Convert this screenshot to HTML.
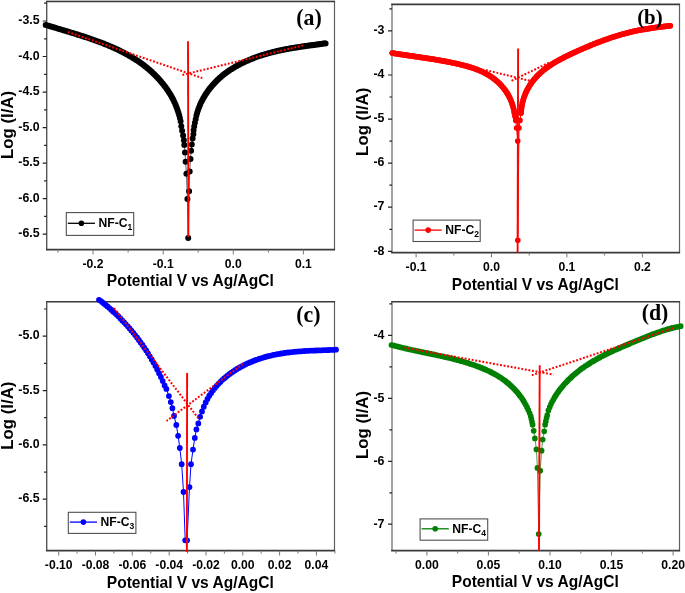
<!DOCTYPE html>
<html lang="en"><head><meta charset="utf-8"><title>Tafel plots</title>
<style>
html,body{margin:0;padding:0;background:#fff;}
body{width:685px;height:593px;overflow:hidden;}
svg{display:block;filter:blur(0.35px);}
.tk{font:bold 13.6px 'Liberation Sans', Arial, sans-serif;fill:#000;}
.ti{font:bold 16.5px 'Liberation Sans', Arial, sans-serif;fill:#000;}
.lg{font:bold 12.8px 'Liberation Sans', Arial, sans-serif;fill:#000;}
.pl{font-family:'Liberation Serif', 'Times New Roman', serif;font-weight:bold;fill:#000;}
</style></head><body>
<svg width="685" height="593" viewBox="0 0 685 593">
<rect width="685" height="593" fill="#fff"/>
<rect x="46" y="0" width="289" height="0.6" fill="#dcdcdc"/>
<g id="plot-a">
<path d="M46.7 1.45V249.6" stroke="#555" stroke-width="1.4" fill="none"/>
<path d="M334.5 1.45V249.6" stroke="#606060" stroke-width="1.2" fill="none"/>
<path d="M46.00 1.45H335.1" stroke="#3a3a3a" stroke-width="1.6" fill="none"/>
<path d="M46.00 249.6H335.1" stroke="#3a3a3a" stroke-width="1.8" fill="none"/>
<path d="M93.0 249.6v4.8M163.2 249.6v4.8M233.3 249.6v4.8M303.4 249.6v4.8M58.0 249.6v2.9M128.1 249.6v2.9M198.2 249.6v2.9M268.4 249.6v2.9" stroke="#777" stroke-width="1" fill="none"/>
<path d="M46.7 21.0h-4M46.7 56.5h-4M46.7 92.1h-4M46.7 127.6h-4M46.7 163.1h-4M46.7 198.7h-4M46.7 234.2h-4M46.7 3.2h-2.6M46.7 38.8h-2.6M46.7 74.3h-2.6M46.7 109.8h-2.6M46.7 145.4h-2.6M46.7 180.9h-2.6M46.7 216.4h-2.6" stroke="#222" stroke-width="1.2" fill="none"/>
<path d="M45.7 24.9L46.2 25.1L46.9 25.3L47.6 25.5L48.3 25.7L49.0 25.9L49.7 26.1L50.4 26.4L51.1 26.6L51.8 26.8L52.5 27.0L53.2 27.2L53.9 27.4L54.6 27.6L55.3 27.8L56.0 28.1L56.7 28.3L57.4 28.5L58.1 28.7L58.8 28.9L59.5 29.1L60.2 29.3L60.9 29.5L61.6 29.7L62.3 29.9L63.0 30.2L63.7 30.4L64.4 30.6L65.1 30.8L65.8 31.0L66.5 31.2L67.2 31.4L67.9 31.6L68.6 31.8L69.3 32.1L70.0 32.3L70.7 32.5L71.4 32.7L72.1 32.9L72.8 33.1L73.5 33.3L74.2 33.5L74.9 33.8L75.6 34.0L76.3 34.2L77.0 34.4L77.7 34.6L78.4 34.9L79.1 35.1L79.8 35.3L80.5 35.5L81.2 35.7L81.9 36.0L82.6 36.2L83.3 36.4L84.0 36.6L84.7 36.9L85.4 37.1L86.1 37.3L86.8 37.6L87.5 37.8L88.2 38.0L88.9 38.3L89.6 38.5L90.3 38.7L91.0 39.0L91.7 39.2L92.4 39.5L93.1 39.7L93.8 40.0L94.5 40.2L95.2 40.5L95.9 40.7L96.6 41.0L97.3 41.2L98.0 41.5L98.7 41.7L99.4 42.0L100.1 42.3L100.8 42.5L101.5 42.8L102.2 43.1L102.9 43.3L103.6 43.6L104.3 43.9L105.0 44.2L105.7 44.4L106.4 44.7L107.1 45.0L107.8 45.3L108.5 45.6L109.2 45.9L109.9 46.2L110.6 46.5L111.3 46.8L112.0 47.1L112.7 47.4L113.4 47.7L114.1 48.0L114.8 48.3L115.5 48.7L116.2 49.0L116.9 49.3L117.6 49.6L118.3 50.0L119.0 50.3L119.7 50.7L120.4 51.0L121.1 51.4L121.8 51.7L122.5 52.1L123.2 52.4L123.9 52.8L124.6 53.2L125.3 53.5L126.0 53.9L126.7 54.3L127.4 54.7L128.1 55.1L128.8 55.5L129.5 55.9L130.2 56.3L130.9 56.7L131.6 57.1L132.3 57.5L133.0 57.9L133.7 58.4L134.4 58.8L135.1 59.3L135.8 59.7L136.5 60.2L137.2 60.6L137.9 61.1L138.6 61.6L139.3 62.0L140.0 62.5L140.7 63.0L141.4 63.5L142.1 64.0L142.8 64.6L143.5 65.1L144.2 65.6L144.9 66.2L145.6 66.7L146.3 67.3L147.0 67.8L147.7 68.4L148.4 69.0L149.1 69.6L149.8 70.2L150.5 70.8L151.2 71.5L151.9 72.1L152.6 72.7L153.3 73.4L154.0 74.1L154.7 74.8L155.4 75.4L156.1 76.2L156.8 76.9L157.5 77.6L158.2 78.4L158.9 79.1L159.6 79.9L160.3 80.7L161.0 81.5L161.7 82.4L162.4 83.2L163.1 84.1L163.8 85.0L164.5 85.9L165.2 86.8L165.9 87.8L166.6 88.8L167.3 89.8L168.0 90.8L168.7 91.9L169.4 93.0L170.1 94.1L170.8 95.3L171.5 96.5L172.2 97.8L172.9 99.1L173.6 100.5L174.3 102.0L175.0 103.5L175.7 105.1L176.4 106.9L177.1 108.7L177.8 110.7L178.5 112.9L179.2 115.3L179.9 118.0L180.6 121.3L181.3 126.2L182.1 130.8L183.1 135.5L183.9 140.2L184.3 144.9L185.0 152.4L185.6 161.8L186.4 173.8L187.4 199.0L188.2 238.1L189.1 191.3L189.7 171.5L190.5 158.9L191.1 150.7L191.8 144.6L192.6 138.4L193.4 134.3L193.6 130.3L194.2 126.4L194.9 122.7L195.7 119.2L196.4 115.5L197.1 113.0L197.8 110.7L198.5 108.7L199.2 106.9L199.9 105.2L200.6 103.6L201.3 102.1L202.0 100.7L202.7 99.4L203.4 98.1L204.1 96.9L204.8 95.7L205.5 94.6L206.2 93.5L206.9 92.5L207.6 91.5L208.3 90.5L209.0 89.5L209.7 88.6L210.4 87.7L211.1 86.9L211.8 86.0L212.5 85.2L213.2 84.4L213.9 83.7L214.6 82.9L215.3 82.2L216.0 81.4L216.7 80.7L217.4 80.1L218.1 79.4L218.8 78.8L219.5 78.1L220.2 77.5L220.9 76.9L221.6 76.3L222.3 75.7L223.0 75.1L223.7 74.6L224.4 74.0L225.1 73.5L225.8 73.0L226.5 72.5L227.2 72.0L227.9 71.5L228.6 71.0L229.3 70.5L230.0 70.1L230.7 69.6L231.4 69.2L232.1 68.7L232.8 68.3L233.5 67.9L234.2 67.4L234.9 67.0L235.6 66.6L236.3 66.2L237.0 65.8L237.7 65.5L238.4 65.1L239.1 64.7L239.8 64.3L240.5 64.0L241.2 63.6L241.9 63.3L242.6 62.9L243.3 62.6L244.0 62.3L244.7 61.9L245.4 61.6L246.1 61.3L246.8 61.0L247.5 60.7L248.2 60.4L248.9 60.1L249.6 59.8L250.3 59.5L251.0 59.2L251.7 58.9L252.4 58.6L253.1 58.4L253.8 58.1L254.5 57.8L255.2 57.6L255.9 57.3L256.6 57.0L257.3 56.8L258.0 56.5L258.7 56.3L259.4 56.1L260.1 55.8L260.8 55.6L261.5 55.4L262.2 55.1L262.9 54.9L263.6 54.7L264.3 54.5L265.0 54.3L265.7 54.1L266.4 53.9L267.1 53.7L267.8 53.5L268.5 53.3L269.2 53.1L269.9 52.9L270.6 52.7L271.3 52.5L272.0 52.3L272.7 52.2L273.4 52.0L274.1 51.8L274.8 51.7L275.5 51.5L276.2 51.3L276.9 51.2L277.6 51.0L278.3 50.8L279.0 50.7L279.7 50.5L280.4 50.4L281.1 50.2L281.8 50.1L282.5 50.0L283.2 49.8L283.9 49.7L284.6 49.5L285.3 49.4L286.0 49.3L286.7 49.1L287.4 49.0L288.1 48.9L288.8 48.8L289.5 48.6L290.2 48.5L290.9 48.4L291.6 48.3L292.3 48.1L293.0 48.0L293.7 47.9L294.4 47.8L295.1 47.7L295.8 47.6L296.5 47.5L297.2 47.4L297.9 47.2L298.6 47.1L299.3 47.0L300.0 46.9L300.7 46.8L301.4 46.7L302.1 46.6L302.8 46.5L303.5 46.4L304.2 46.3L304.9 46.2L305.6 46.1L306.3 46.0L307.0 45.9L307.7 45.8L308.4 45.7L309.1 45.6L309.8 45.5L310.5 45.4L311.2 45.3L311.9 45.3L312.6 45.2L313.3 45.1L314.0 45.0L314.7 44.9L315.4 44.8L316.1 44.7L316.8 44.6L317.5 44.5L318.2 44.4L318.9 44.3L319.6 44.2L320.3 44.1L321.0 44.0L321.7 43.9L322.4 43.8L323.1 43.7L323.8 43.6L324.5 43.6L325.2 43.5L325.6 43.4" stroke="#000000" stroke-width="0.6" fill="none" stroke-linejoin="round"/>
<path d="M45.7 24.9h0M46.2 25.1h0M46.9 25.3h0M47.6 25.5h0M48.3 25.7h0M49.0 25.9h0M49.7 26.1h0M50.4 26.4h0M51.1 26.6h0M51.8 26.8h0M52.5 27.0h0M53.2 27.2h0M53.9 27.4h0M54.6 27.6h0M55.3 27.8h0M56.0 28.1h0M56.7 28.3h0M57.4 28.5h0M58.1 28.7h0M58.8 28.9h0M59.5 29.1h0M60.2 29.3h0M60.9 29.5h0M61.6 29.7h0M62.3 29.9h0M63.0 30.2h0M63.7 30.4h0M64.4 30.6h0M65.1 30.8h0M65.8 31.0h0M66.5 31.2h0M67.2 31.4h0M67.9 31.6h0M68.6 31.8h0M69.3 32.1h0M70.0 32.3h0M70.7 32.5h0M71.4 32.7h0M72.1 32.9h0M72.8 33.1h0M73.5 33.3h0M74.2 33.5h0M74.9 33.8h0M75.6 34.0h0M76.3 34.2h0M77.0 34.4h0M77.7 34.6h0M78.4 34.9h0M79.1 35.1h0M79.8 35.3h0M80.5 35.5h0M81.2 35.7h0M81.9 36.0h0M82.6 36.2h0M83.3 36.4h0M84.0 36.6h0M84.7 36.9h0M85.4 37.1h0M86.1 37.3h0M86.8 37.6h0M87.5 37.8h0M88.2 38.0h0M88.9 38.3h0M89.6 38.5h0M90.3 38.7h0M91.0 39.0h0M91.7 39.2h0M92.4 39.5h0M93.1 39.7h0M93.8 40.0h0M94.5 40.2h0M95.2 40.5h0M95.9 40.7h0M96.6 41.0h0M97.3 41.2h0M98.0 41.5h0M98.7 41.7h0M99.4 42.0h0M100.1 42.3h0M100.8 42.5h0M101.5 42.8h0M102.2 43.1h0M102.9 43.3h0M103.6 43.6h0M104.3 43.9h0M105.0 44.2h0M105.7 44.4h0M106.4 44.7h0M107.1 45.0h0M107.8 45.3h0M108.5 45.6h0M109.2 45.9h0M109.9 46.2h0M110.6 46.5h0M111.3 46.8h0M112.0 47.1h0M112.7 47.4h0M113.4 47.7h0M114.1 48.0h0M114.8 48.3h0M115.5 48.7h0M116.2 49.0h0M116.9 49.3h0M117.6 49.6h0M118.3 50.0h0M119.0 50.3h0M119.7 50.7h0M120.4 51.0h0M121.1 51.4h0M121.8 51.7h0M122.5 52.1h0M123.2 52.4h0M123.9 52.8h0M124.6 53.2h0M125.3 53.5h0M126.0 53.9h0M126.7 54.3h0M127.4 54.7h0M128.1 55.1h0M128.8 55.5h0M129.5 55.9h0M130.2 56.3h0M130.9 56.7h0M131.6 57.1h0M132.3 57.5h0M133.0 57.9h0M133.7 58.4h0M134.4 58.8h0M135.1 59.3h0M135.8 59.7h0M136.5 60.2h0M137.2 60.6h0M137.9 61.1h0M138.6 61.6h0M139.3 62.0h0M140.0 62.5h0M140.7 63.0h0M141.4 63.5h0M142.1 64.0h0M142.8 64.6h0M143.5 65.1h0M144.2 65.6h0M144.9 66.2h0M145.6 66.7h0M146.3 67.3h0M147.0 67.8h0M147.7 68.4h0M148.4 69.0h0M149.1 69.6h0M149.8 70.2h0M150.5 70.8h0M151.2 71.5h0M151.9 72.1h0M152.6 72.7h0M153.3 73.4h0M154.0 74.1h0M154.7 74.8h0M155.4 75.4h0M156.1 76.2h0M156.8 76.9h0M157.5 77.6h0M158.2 78.4h0M158.9 79.1h0M159.6 79.9h0M160.3 80.7h0M161.0 81.5h0M161.7 82.4h0M162.4 83.2h0M163.1 84.1h0M163.8 85.0h0M164.5 85.9h0M165.2 86.8h0M165.9 87.8h0M166.6 88.8h0M167.3 89.8h0M168.0 90.8h0M168.7 91.9h0M169.4 93.0h0M170.1 94.1h0M170.8 95.3h0M171.5 96.5h0M172.2 97.8h0M172.9 99.1h0M173.6 100.5h0M174.3 102.0h0M175.0 103.5h0M175.7 105.1h0M176.4 106.9h0M177.1 108.7h0M177.8 110.7h0M178.5 112.9h0M179.2 115.3h0M179.9 118.0h0M180.6 121.3h0M181.3 126.2h0M182.1 130.8h0M183.1 135.5h0M183.9 140.2h0M184.3 144.9h0M185.0 152.4h0M185.6 161.8h0M186.4 173.8h0M187.4 199.0h0M188.2 238.1h0M189.1 191.3h0M189.7 171.5h0M190.5 158.9h0M191.1 150.7h0M191.8 144.6h0M192.6 138.4h0M193.4 134.3h0M193.6 130.3h0M194.2 126.4h0M194.9 122.7h0M195.7 119.2h0M196.4 115.5h0M197.1 113.0h0M197.8 110.7h0M198.5 108.7h0M199.2 106.9h0M199.9 105.2h0M200.6 103.6h0M201.3 102.1h0M202.0 100.7h0M202.7 99.4h0M203.4 98.1h0M204.1 96.9h0M204.8 95.7h0M205.5 94.6h0M206.2 93.5h0M206.9 92.5h0M207.6 91.5h0M208.3 90.5h0M209.0 89.5h0M209.7 88.6h0M210.4 87.7h0M211.1 86.9h0M211.8 86.0h0M212.5 85.2h0M213.2 84.4h0M213.9 83.7h0M214.6 82.9h0M215.3 82.2h0M216.0 81.4h0M216.7 80.7h0M217.4 80.1h0M218.1 79.4h0M218.8 78.8h0M219.5 78.1h0M220.2 77.5h0M220.9 76.9h0M221.6 76.3h0M222.3 75.7h0M223.0 75.1h0M223.7 74.6h0M224.4 74.0h0M225.1 73.5h0M225.8 73.0h0M226.5 72.5h0M227.2 72.0h0M227.9 71.5h0M228.6 71.0h0M229.3 70.5h0M230.0 70.1h0M230.7 69.6h0M231.4 69.2h0M232.1 68.7h0M232.8 68.3h0M233.5 67.9h0M234.2 67.4h0M234.9 67.0h0M235.6 66.6h0M236.3 66.2h0M237.0 65.8h0M237.7 65.5h0M238.4 65.1h0M239.1 64.7h0M239.8 64.3h0M240.5 64.0h0M241.2 63.6h0M241.9 63.3h0M242.6 62.9h0M243.3 62.6h0M244.0 62.3h0M244.7 61.9h0M245.4 61.6h0M246.1 61.3h0M246.8 61.0h0M247.5 60.7h0M248.2 60.4h0M248.9 60.1h0M249.6 59.8h0M250.3 59.5h0M251.0 59.2h0M251.7 58.9h0M252.4 58.6h0M253.1 58.4h0M253.8 58.1h0M254.5 57.8h0M255.2 57.6h0M255.9 57.3h0M256.6 57.0h0M257.3 56.8h0M258.0 56.5h0M258.7 56.3h0M259.4 56.1h0M260.1 55.8h0M260.8 55.6h0M261.5 55.4h0M262.2 55.1h0M262.9 54.9h0M263.6 54.7h0M264.3 54.5h0M265.0 54.3h0M265.7 54.1h0M266.4 53.9h0M267.1 53.7h0M267.8 53.5h0M268.5 53.3h0M269.2 53.1h0M269.9 52.9h0M270.6 52.7h0M271.3 52.5h0M272.0 52.3h0M272.7 52.2h0M273.4 52.0h0M274.1 51.8h0M274.8 51.7h0M275.5 51.5h0M276.2 51.3h0M276.9 51.2h0M277.6 51.0h0M278.3 50.8h0M279.0 50.7h0M279.7 50.5h0M280.4 50.4h0M281.1 50.2h0M281.8 50.1h0M282.5 50.0h0M283.2 49.8h0M283.9 49.7h0M284.6 49.5h0M285.3 49.4h0M286.0 49.3h0M286.7 49.1h0M287.4 49.0h0M288.1 48.9h0M288.8 48.8h0M289.5 48.6h0M290.2 48.5h0M290.9 48.4h0M291.6 48.3h0M292.3 48.1h0M293.0 48.0h0M293.7 47.9h0M294.4 47.8h0M295.1 47.7h0M295.8 47.6h0M296.5 47.5h0M297.2 47.4h0M297.9 47.2h0M298.6 47.1h0M299.3 47.0h0M300.0 46.9h0M300.7 46.8h0M301.4 46.7h0M302.1 46.6h0M302.8 46.5h0M303.5 46.4h0M304.2 46.3h0M304.9 46.2h0M305.6 46.1h0M306.3 46.0h0M307.0 45.9h0M307.7 45.8h0M308.4 45.7h0M309.1 45.6h0M309.8 45.5h0M310.5 45.4h0M311.2 45.3h0M311.9 45.3h0M312.6 45.2h0M313.3 45.1h0M314.0 45.0h0M314.7 44.9h0M315.4 44.8h0M316.1 44.7h0M316.8 44.6h0M317.5 44.5h0M318.2 44.4h0M318.9 44.3h0M319.6 44.2h0M320.3 44.1h0M321.0 44.0h0M321.7 43.9h0M322.4 43.8h0M323.1 43.7h0M323.8 43.6h0M324.5 43.6h0M325.2 43.5h0M325.6 43.4h0" stroke="#000000" stroke-width="6.0" fill="none" stroke-linecap="round"/>
<line x1="67.9" y1="32" x2="202.3" y2="78.1" stroke="#ff0000" stroke-width="2" stroke-dasharray="1.9 1.7"/>
<line x1="303.1" y1="45.4" x2="182.2" y2="75" stroke="#ff0000" stroke-width="2" stroke-dasharray="1.9 1.7"/>
<line x1="188.0" y1="41.3" x2="188.4" y2="237" stroke="#ff0000" stroke-width="1.9"/>
<text transform="translate(93.0 268.4) scale(0.895 1)" text-anchor="middle" class="tk">-0.2</text>
<text transform="translate(163.2 268.4) scale(0.895 1)" text-anchor="middle" class="tk">-0.1</text>
<text transform="translate(233.3 268.4) scale(0.895 1)" text-anchor="middle" class="tk">0.0</text>
<text transform="translate(303.4 268.4) scale(0.895 1)" text-anchor="middle" class="tk">0.1</text>
<text transform="translate(39.6 24.2) scale(0.91 1)" text-anchor="end" class="tk">-3.5</text>
<text transform="translate(39.6 59.7) scale(0.91 1)" text-anchor="end" class="tk">-4.0</text>
<text transform="translate(39.6 95.3) scale(0.91 1)" text-anchor="end" class="tk">-4.5</text>
<text transform="translate(39.6 130.8) scale(0.91 1)" text-anchor="end" class="tk">-5.0</text>
<text transform="translate(39.6 166.3) scale(0.91 1)" text-anchor="end" class="tk">-5.5</text>
<text transform="translate(39.6 201.9) scale(0.91 1)" text-anchor="end" class="tk">-6.0</text>
<text transform="translate(39.6 237.4) scale(0.91 1)" text-anchor="end" class="tk">-6.5</text>
<text transform="translate(190.3 285.6) scale(0.943 1)" text-anchor="middle" class="ti">Potential V vs Ag/AgCl</text>
<text transform="translate(13.2 125) rotate(-90) scale(1.02 0.95)" text-anchor="middle" class="ti">Log (I/A)</text>
<rect x="66.3" y="212.6" width="67.4" height="22.8" fill="#fff" stroke="#505050" stroke-width="1.1"/>
<line x1="67.8" y1="223.3" x2="95.0" y2="223.3" stroke="#000000" stroke-width="1.3"/>
<circle cx="81.4" cy="223.3" r="2.8" fill="#000000"/>
<text transform="translate(98.5 227.0) scale(0.95 1)" class="lg">NF-C<tspan dy="3.1" font-size="9">1</tspan></text>
<text transform="translate(309 24.9) scale(0.95 1)" text-anchor="middle" class="pl" font-size="23">(a)</text>
</g>
<g id="plot-b">
<path d="M392.0 4.35V252.6" stroke="#999" stroke-width="1.8" fill="none"/>
<path d="M679.5 4.35V252.6" stroke="#606060" stroke-width="1.2" fill="none"/>
<path d="M391.10 4.35H680.1" stroke="#3a3a3a" stroke-width="1.6" fill="none"/>
<path d="M391.10 252.6H680.1" stroke="#3a3a3a" stroke-width="1.8" fill="none"/>
<path d="M416.1 252.6v4.8M491.5 252.6v4.8M566.9 252.6v4.8M642.4 252.6v4.8M453.8 252.6v2.9M529.2 252.6v2.9M604.6 252.6v2.9" stroke="#777" stroke-width="1" fill="none"/>
<path d="M392.0 30.9h-4M392.0 75.0h-4M392.0 119.1h-4M392.0 163.1h-4M392.0 207.2h-4M392.0 251.3h-4M392.0 8.9h-2.6M392.0 52.9h-2.6M392.0 97.0h-2.6M392.0 141.1h-2.6M392.0 185.2h-2.6M392.0 229.3h-2.6" stroke="#222" stroke-width="1.2" fill="none"/>
<path d="M392.3 53.1L393.1 53.2L393.8 53.3L394.6 53.4L395.3 53.6L396.1 53.7L396.8 53.8L397.6 53.9L398.3 54.0L399.1 54.1L399.8 54.3L400.6 54.4L401.3 54.5L402.1 54.6L402.9 54.7L403.6 54.8L404.4 54.9L405.1 55.0L405.9 55.1L406.6 55.3L407.4 55.4L408.1 55.5L408.9 55.6L409.6 55.7L410.4 55.8L411.1 55.9L411.9 56.0L412.7 56.1L413.4 56.2L414.2 56.4L414.9 56.5L415.7 56.6L416.4 56.7L417.2 56.8L417.9 56.9L418.7 57.0L419.4 57.1L420.2 57.2L420.9 57.4L421.7 57.5L422.5 57.6L423.2 57.7L424.0 57.8L424.7 57.9L425.5 58.0L426.2 58.1L427.0 58.3L427.7 58.4L428.5 58.5L429.2 58.6L430.0 58.7L430.8 58.9L431.5 59.0L432.3 59.1L433.0 59.2L433.8 59.3L434.5 59.5L435.3 59.6L436.0 59.7L436.8 59.8L437.5 60.0L438.3 60.1L439.0 60.2L439.8 60.4L440.6 60.5L441.3 60.6L442.1 60.8L442.8 60.9L443.6 61.0L444.3 61.2L445.1 61.3L445.8 61.5L446.6 61.6L447.3 61.7L448.1 61.9L448.8 62.0L449.6 62.2L450.4 62.3L451.1 62.5L451.9 62.7L452.6 62.8L453.4 63.0L454.1 63.1L454.9 63.3L455.6 63.5L456.4 63.6L457.1 63.8L457.9 64.0L458.6 64.1L459.4 64.3L460.2 64.5L460.9 64.7L461.7 64.8L462.4 65.0L463.2 65.2L463.9 65.4L464.7 65.6L465.4 65.8L466.2 66.0L466.9 66.2L467.7 66.4L468.5 66.7L469.2 66.9L470.0 67.1L470.7 67.3L471.5 67.6L472.2 67.8L473.0 68.1L473.7 68.3L474.5 68.6L475.2 68.8L476.0 69.1L476.7 69.4L477.5 69.7L478.3 70.0L479.0 70.3L479.8 70.6L480.5 70.9L481.3 71.3L482.0 71.6L482.8 72.0L483.5 72.3L484.3 72.7L485.0 73.1L485.8 73.5L486.5 73.9L487.3 74.3L488.1 74.8L488.8 75.2L489.6 75.7L490.3 76.2L491.1 76.7L491.8 77.2L492.6 77.7L493.3 78.3L494.1 78.8L494.8 79.4L495.6 80.1L496.3 80.7L497.1 81.3L497.9 82.0L498.6 82.7L499.4 83.5L500.1 84.2L500.9 85.0L501.6 85.9L502.4 86.7L503.1 87.6L503.9 88.6L504.6 89.6L505.4 90.6L506.2 91.7L506.9 92.9L507.7 94.1L508.4 95.4L509.2 96.8L509.9 98.3L510.7 100.0L511.4 101.8L512.2 103.9L512.9 106.3L513.7 109.2L514.4 112.9L515.2 116.8L515.7 120.4L516.6 128.0L517.7 141.1L517.8 240.2L519.0 128.0L520.0 120.4L521.0 113.1L521.8 106.0L522.5 102.4L523.3 99.7L524.0 97.3L524.8 95.3L525.5 93.4L526.3 91.8L527.0 90.2L527.8 88.8L528.5 87.5L529.3 86.2L530.0 85.0L530.8 83.9L531.6 82.8L532.3 81.7L533.1 80.7L533.8 79.8L534.6 78.9L535.3 78.0L536.1 77.2L536.8 76.4L537.6 75.6L538.3 74.8L539.1 74.1L539.9 73.4L540.6 72.7L541.4 72.0L542.1 71.4L542.9 70.7L543.6 70.1L544.4 69.5L545.1 68.9L545.9 68.4L546.6 67.8L547.4 67.3L548.1 66.7L548.9 66.2L549.7 65.7L550.4 65.2L551.2 64.7L551.9 64.2L552.7 63.7L553.4 63.2L554.2 62.8L554.9 62.3L555.7 61.9L556.4 61.5L557.2 61.0L557.9 60.6L558.7 60.2L559.5 59.8L560.2 59.4L561.0 59.0L561.7 58.6L562.5 58.2L563.2 57.8L564.0 57.4L564.7 57.0L565.5 56.6L566.2 56.3L567.0 55.9L567.7 55.5L568.5 55.2L569.3 54.8L570.0 54.4L570.8 54.1L571.5 53.7L572.3 53.4L573.0 53.0L573.8 52.7L574.5 52.3L575.3 52.0L576.0 51.7L576.8 51.3L577.6 51.0L578.3 50.6L579.1 50.3L579.8 50.0L580.6 49.6L581.3 49.3L582.1 49.0L582.8 48.6L583.6 48.3L584.3 48.0L585.1 47.7L585.8 47.3L586.6 47.0L587.4 46.7L588.1 46.4L588.9 46.1L589.6 45.8L590.4 45.4L591.1 45.1L591.9 44.8L592.6 44.5L593.4 44.2L594.1 43.9L594.9 43.6L595.6 43.3L596.4 43.0L597.2 42.7L597.9 42.4L598.7 42.1L599.4 41.8L600.2 41.6L600.9 41.3L601.7 41.0L602.4 40.7L603.2 40.4L603.9 40.2L604.7 39.9L605.4 39.6L606.2 39.4L607.0 39.1L607.7 38.8L608.5 38.6L609.2 38.3L610.0 38.0L610.7 37.8L611.5 37.5L612.2 37.3L613.0 37.0L613.7 36.8L614.5 36.6L615.3 36.3L616.0 36.1L616.8 35.9L617.5 35.6L618.3 35.4L619.0 35.2L619.8 35.0L620.5 34.7L621.3 34.5L622.0 34.3L622.8 34.1L623.5 33.9L624.3 33.7L625.1 33.5L625.8 33.3L626.6 33.1L627.3 32.9L628.1 32.7L628.8 32.5L629.6 32.3L630.3 32.1L631.1 32.0L631.8 31.8L632.6 31.6L633.3 31.4L634.1 31.3L634.9 31.1L635.6 31.0L636.4 30.8L637.1 30.6L637.9 30.5L638.6 30.3L639.4 30.2L640.1 30.0L640.9 29.9L641.6 29.8L642.4 29.6L643.1 29.5L643.9 29.4L644.7 29.2L645.4 29.1L646.2 29.0L646.9 28.9L647.7 28.7L648.4 28.6L649.2 28.5L649.9 28.4L650.7 28.3L651.4 28.1L652.2 28.0L653.0 27.9L653.7 27.8L654.5 27.7L655.2 27.6L656.0 27.5L656.7 27.4L657.5 27.3L658.2 27.2L659.0 27.1L659.7 27.0L660.5 26.9L661.2 26.8L662.0 26.8L662.8 26.7L663.5 26.6L664.3 26.5L665.0 26.4L665.8 26.3L666.5 26.2L667.3 26.1L668.0 26.1L668.8 26.0L669.5 25.9L670.3 25.8" stroke="#ff0000" stroke-width="1" fill="none" stroke-linejoin="round"/>
<path d="M392.3 53.1L393.1 53.2L393.8 53.3L394.6 53.4L395.3 53.6L396.1 53.7L396.8 53.8L397.6 53.9L398.3 54.0L399.1 54.1L399.8 54.3L400.6 54.4L401.3 54.5L402.1 54.6L402.9 54.7L403.6 54.8L404.4 54.9L405.1 55.0L405.9 55.1L406.6 55.3L407.4 55.4L408.1 55.5L408.9 55.6L409.6 55.7L410.4 55.8L411.1 55.9L411.9 56.0L412.7 56.1L413.4 56.2L414.2 56.4L414.9 56.5L415.7 56.6L416.4 56.7L417.2 56.8L417.9 56.9L418.7 57.0L419.4 57.1L420.2 57.2L420.9 57.4L421.7 57.5L422.5 57.6L423.2 57.7L424.0 57.8L424.7 57.9L425.5 58.0L426.2 58.1L427.0 58.3L427.7 58.4L428.5 58.5L429.2 58.6L430.0 58.7L430.8 58.9L431.5 59.0L432.3 59.1L433.0 59.2L433.8 59.3L434.5 59.5L435.3 59.6L436.0 59.7L436.8 59.8L437.5 60.0L438.3 60.1L439.0 60.2L439.8 60.4L440.6 60.5L441.3 60.6L442.1 60.8L442.8 60.9L443.6 61.0L444.3 61.2L445.1 61.3L445.8 61.5L446.6 61.6L447.3 61.7L448.1 61.9L448.8 62.0L449.6 62.2L450.4 62.3L451.1 62.5L451.9 62.7L452.6 62.8L453.4 63.0L454.1 63.1L454.9 63.3L455.6 63.5L456.4 63.6L457.1 63.8L457.9 64.0L458.6 64.1L459.4 64.3L460.2 64.5L460.9 64.7L461.7 64.8L462.4 65.0L463.2 65.2L463.9 65.4L464.7 65.6L465.4 65.8L466.2 66.0L466.9 66.2L467.7 66.4L468.5 66.7L469.2 66.9L470.0 67.1L470.7 67.3L471.5 67.6L472.2 67.8L473.0 68.1L473.7 68.3L474.5 68.6L475.2 68.8L476.0 69.1L476.7 69.4L477.5 69.7L478.3 70.0L479.0 70.3L479.8 70.6L480.5 70.9L481.3 71.3L482.0 71.6L482.8 72.0L483.5 72.3L484.3 72.7L485.0 73.1L485.8 73.5L486.5 73.9L487.3 74.3L488.1 74.8L488.8 75.2L489.6 75.7L490.3 76.2L491.1 76.7L491.8 77.2L492.6 77.7L493.3 78.3L494.1 78.8L494.8 79.4L495.6 80.1L496.3 80.7L497.1 81.3L497.9 82.0L498.6 82.7L499.4 83.5L500.1 84.2L500.9 85.0L501.6 85.9L502.4 86.7L503.1 87.6L503.9 88.6L504.6 89.6L505.4 90.6L506.2 91.7L506.9 92.9L507.7 94.1L508.4 95.4L509.2 96.8L509.9 98.3L510.7 100.0L511.4 101.8L512.2 103.9L512.9 106.3L513.7 109.2L514.4 112.9L515.2 116.8M521.0 113.1L521.8 106.0L522.5 102.4L523.3 99.7L524.0 97.3L524.8 95.3L525.5 93.4L526.3 91.8L527.0 90.2L527.8 88.8L528.5 87.5L529.3 86.2L530.0 85.0L530.8 83.9L531.6 82.8L532.3 81.7L533.1 80.7L533.8 79.8L534.6 78.9L535.3 78.0L536.1 77.2L536.8 76.4L537.6 75.6L538.3 74.8L539.1 74.1L539.9 73.4L540.6 72.7L541.4 72.0L542.1 71.4L542.9 70.7L543.6 70.1L544.4 69.5L545.1 68.9L545.9 68.4L546.6 67.8L547.4 67.3L548.1 66.7L548.9 66.2L549.7 65.7L550.4 65.2L551.2 64.7L551.9 64.2L552.7 63.7L553.4 63.2L554.2 62.8L554.9 62.3L555.7 61.9L556.4 61.5L557.2 61.0L557.9 60.6L558.7 60.2L559.5 59.8L560.2 59.4L561.0 59.0L561.7 58.6L562.5 58.2L563.2 57.8L564.0 57.4L564.7 57.0L565.5 56.6L566.2 56.3L567.0 55.9L567.7 55.5L568.5 55.2L569.3 54.8L570.0 54.4L570.8 54.1L571.5 53.7L572.3 53.4L573.0 53.0L573.8 52.7L574.5 52.3L575.3 52.0L576.0 51.7L576.8 51.3L577.6 51.0L578.3 50.6L579.1 50.3L579.8 50.0L580.6 49.6L581.3 49.3L582.1 49.0L582.8 48.6L583.6 48.3L584.3 48.0L585.1 47.7L585.8 47.3L586.6 47.0L587.4 46.7L588.1 46.4L588.9 46.1L589.6 45.8L590.4 45.4L591.1 45.1L591.9 44.8L592.6 44.5L593.4 44.2L594.1 43.9L594.9 43.6L595.6 43.3L596.4 43.0L597.2 42.7L597.9 42.4L598.7 42.1L599.4 41.8L600.2 41.6L600.9 41.3L601.7 41.0L602.4 40.7L603.2 40.4L603.9 40.2L604.7 39.9L605.4 39.6L606.2 39.4L607.0 39.1L607.7 38.8L608.5 38.6L609.2 38.3L610.0 38.0L610.7 37.8L611.5 37.5L612.2 37.3L613.0 37.0L613.7 36.8L614.5 36.6L615.3 36.3L616.0 36.1L616.8 35.9L617.5 35.6L618.3 35.4L619.0 35.2L619.8 35.0L620.5 34.7L621.3 34.5L622.0 34.3L622.8 34.1L623.5 33.9L624.3 33.7L625.1 33.5L625.8 33.3L626.6 33.1L627.3 32.9L628.1 32.7L628.8 32.5L629.6 32.3L630.3 32.1L631.1 32.0L631.8 31.8L632.6 31.6L633.3 31.4L634.1 31.3L634.9 31.1L635.6 31.0L636.4 30.8L637.1 30.6L637.9 30.5L638.6 30.3L639.4 30.2L640.1 30.0L640.9 29.9L641.6 29.8L642.4 29.6L643.1 29.5L643.9 29.4L644.7 29.2L645.4 29.1L646.2 29.0L646.9 28.9L647.7 28.7L648.4 28.6L649.2 28.5L649.9 28.4L650.7 28.3L651.4 28.1L652.2 28.0L653.0 27.9L653.7 27.8L654.5 27.7L655.2 27.6L656.0 27.5L656.7 27.4L657.5 27.3L658.2 27.2L659.0 27.1L659.7 27.0L660.5 26.9L661.2 26.8L662.0 26.8L662.8 26.7L663.5 26.6L664.3 26.5L665.0 26.4L665.8 26.3L666.5 26.2L667.3 26.1L668.0 26.1L668.8 26.0L669.5 25.9L670.3 25.8" stroke="#ff0000" stroke-width="5.6" fill="none" stroke-linecap="round" stroke-linejoin="round"/>
<path d="M392.3 53.1h0M393.1 53.2h0M393.8 53.3h0M394.6 53.4h0M395.3 53.6h0M396.1 53.7h0M396.8 53.8h0M397.6 53.9h0M398.3 54.0h0M399.1 54.1h0M399.8 54.3h0M400.6 54.4h0M401.3 54.5h0M402.1 54.6h0M402.9 54.7h0M403.6 54.8h0M404.4 54.9h0M405.1 55.0h0M405.9 55.1h0M406.6 55.3h0M407.4 55.4h0M408.1 55.5h0M408.9 55.6h0M409.6 55.7h0M410.4 55.8h0M411.1 55.9h0M411.9 56.0h0M412.7 56.1h0M413.4 56.2h0M414.2 56.4h0M414.9 56.5h0M415.7 56.6h0M416.4 56.7h0M417.2 56.8h0M417.9 56.9h0M418.7 57.0h0M419.4 57.1h0M420.2 57.2h0M420.9 57.4h0M421.7 57.5h0M422.5 57.6h0M423.2 57.7h0M424.0 57.8h0M424.7 57.9h0M425.5 58.0h0M426.2 58.1h0M427.0 58.3h0M427.7 58.4h0M428.5 58.5h0M429.2 58.6h0M430.0 58.7h0M430.8 58.9h0M431.5 59.0h0M432.3 59.1h0M433.0 59.2h0M433.8 59.3h0M434.5 59.5h0M435.3 59.6h0M436.0 59.7h0M436.8 59.8h0M437.5 60.0h0M438.3 60.1h0M439.0 60.2h0M439.8 60.4h0M440.6 60.5h0M441.3 60.6h0M442.1 60.8h0M442.8 60.9h0M443.6 61.0h0M444.3 61.2h0M445.1 61.3h0M445.8 61.5h0M446.6 61.6h0M447.3 61.7h0M448.1 61.9h0M448.8 62.0h0M449.6 62.2h0M450.4 62.3h0M451.1 62.5h0M451.9 62.7h0M452.6 62.8h0M453.4 63.0h0M454.1 63.1h0M454.9 63.3h0M455.6 63.5h0M456.4 63.6h0M457.1 63.8h0M457.9 64.0h0M458.6 64.1h0M459.4 64.3h0M460.2 64.5h0M460.9 64.7h0M461.7 64.8h0M462.4 65.0h0M463.2 65.2h0M463.9 65.4h0M464.7 65.6h0M465.4 65.8h0M466.2 66.0h0M466.9 66.2h0M467.7 66.4h0M468.5 66.7h0M469.2 66.9h0M470.0 67.1h0M470.7 67.3h0M471.5 67.6h0M472.2 67.8h0M473.0 68.1h0M473.7 68.3h0M474.5 68.6h0M475.2 68.8h0M476.0 69.1h0M476.7 69.4h0M477.5 69.7h0M478.3 70.0h0M479.0 70.3h0M479.8 70.6h0M480.5 70.9h0M481.3 71.3h0M482.0 71.6h0M482.8 72.0h0M483.5 72.3h0M484.3 72.7h0M485.0 73.1h0M485.8 73.5h0M486.5 73.9h0M487.3 74.3h0M488.1 74.8h0M488.8 75.2h0M489.6 75.7h0M490.3 76.2h0M491.1 76.7h0M491.8 77.2h0M492.6 77.7h0M493.3 78.3h0M494.1 78.8h0M494.8 79.4h0M495.6 80.1h0M496.3 80.7h0M497.1 81.3h0M497.9 82.0h0M498.6 82.7h0M499.4 83.5h0M500.1 84.2h0M500.9 85.0h0M501.6 85.9h0M502.4 86.7h0M503.1 87.6h0M503.9 88.6h0M504.6 89.6h0M505.4 90.6h0M506.2 91.7h0M506.9 92.9h0M507.7 94.1h0M508.4 95.4h0M509.2 96.8h0M509.9 98.3h0M510.7 100.0h0M511.4 101.8h0M512.2 103.9h0M512.9 106.3h0M513.7 109.2h0M514.4 112.9h0M515.2 116.8h0M515.7 120.4h0M516.6 128.0h0M517.7 141.1h0M517.8 240.2h0M519.0 128.0h0M520.0 120.4h0M521.0 113.1h0M521.8 106.0h0M522.5 102.4h0M523.3 99.7h0M524.0 97.3h0M524.8 95.3h0M525.5 93.4h0M526.3 91.8h0M527.0 90.2h0M527.8 88.8h0M528.5 87.5h0M529.3 86.2h0M530.0 85.0h0M530.8 83.9h0M531.6 82.8h0M532.3 81.7h0M533.1 80.7h0M533.8 79.8h0M534.6 78.9h0M535.3 78.0h0M536.1 77.2h0M536.8 76.4h0M537.6 75.6h0M538.3 74.8h0M539.1 74.1h0M539.9 73.4h0M540.6 72.7h0M541.4 72.0h0M542.1 71.4h0M542.9 70.7h0M543.6 70.1h0M544.4 69.5h0M545.1 68.9h0M545.9 68.4h0M546.6 67.8h0M547.4 67.3h0M548.1 66.7h0M548.9 66.2h0M549.7 65.7h0M550.4 65.2h0M551.2 64.7h0M551.9 64.2h0M552.7 63.7h0M553.4 63.2h0M554.2 62.8h0M554.9 62.3h0M555.7 61.9h0M556.4 61.5h0M557.2 61.0h0M557.9 60.6h0M558.7 60.2h0M559.5 59.8h0M560.2 59.4h0M561.0 59.0h0M561.7 58.6h0M562.5 58.2h0M563.2 57.8h0M564.0 57.4h0M564.7 57.0h0M565.5 56.6h0M566.2 56.3h0M567.0 55.9h0M567.7 55.5h0M568.5 55.2h0M569.3 54.8h0M570.0 54.4h0M570.8 54.1h0M571.5 53.7h0M572.3 53.4h0M573.0 53.0h0M573.8 52.7h0M574.5 52.3h0M575.3 52.0h0M576.0 51.7h0M576.8 51.3h0M577.6 51.0h0M578.3 50.6h0M579.1 50.3h0M579.8 50.0h0M580.6 49.6h0M581.3 49.3h0M582.1 49.0h0M582.8 48.6h0M583.6 48.3h0M584.3 48.0h0M585.1 47.7h0M585.8 47.3h0M586.6 47.0h0M587.4 46.7h0M588.1 46.4h0M588.9 46.1h0M589.6 45.8h0M590.4 45.4h0M591.1 45.1h0M591.9 44.8h0M592.6 44.5h0M593.4 44.2h0M594.1 43.9h0M594.9 43.6h0M595.6 43.3h0M596.4 43.0h0M597.2 42.7h0M597.9 42.4h0M598.7 42.1h0M599.4 41.8h0M600.2 41.6h0M600.9 41.3h0M601.7 41.0h0M602.4 40.7h0M603.2 40.4h0M603.9 40.2h0M604.7 39.9h0M605.4 39.6h0M606.2 39.4h0M607.0 39.1h0M607.7 38.8h0M608.5 38.6h0M609.2 38.3h0M610.0 38.0h0M610.7 37.8h0M611.5 37.5h0M612.2 37.3h0M613.0 37.0h0M613.7 36.8h0M614.5 36.6h0M615.3 36.3h0M616.0 36.1h0M616.8 35.9h0M617.5 35.6h0M618.3 35.4h0M619.0 35.2h0M619.8 35.0h0M620.5 34.7h0M621.3 34.5h0M622.0 34.3h0M622.8 34.1h0M623.5 33.9h0M624.3 33.7h0M625.1 33.5h0M625.8 33.3h0M626.6 33.1h0M627.3 32.9h0M628.1 32.7h0M628.8 32.5h0M629.6 32.3h0M630.3 32.1h0M631.1 32.0h0M631.8 31.8h0M632.6 31.6h0M633.3 31.4h0M634.1 31.3h0M634.9 31.1h0M635.6 31.0h0M636.4 30.8h0M637.1 30.6h0M637.9 30.5h0M638.6 30.3h0M639.4 30.2h0M640.1 30.0h0M640.9 29.9h0M641.6 29.8h0M642.4 29.6h0M643.1 29.5h0M643.9 29.4h0M644.7 29.2h0M645.4 29.1h0M646.2 29.0h0M646.9 28.9h0M647.7 28.7h0M648.4 28.6h0M649.2 28.5h0M649.9 28.4h0M650.7 28.3h0M651.4 28.1h0M652.2 28.0h0M653.0 27.9h0M653.7 27.8h0M654.5 27.7h0M655.2 27.6h0M656.0 27.5h0M656.7 27.4h0M657.5 27.3h0M658.2 27.2h0M659.0 27.1h0M659.7 27.0h0M660.5 26.9h0M661.2 26.8h0M662.0 26.8h0M662.8 26.7h0M663.5 26.6h0M664.3 26.5h0M665.0 26.4h0M665.8 26.3h0M666.5 26.2h0M667.3 26.1h0M668.0 26.1h0M668.8 26.0h0M669.5 25.9h0M670.3 25.8h0" stroke="#ff0000" stroke-width="5.6" fill="none" stroke-linecap="round"/>
<line x1="485.9" y1="70.1" x2="529.9" y2="80.8" stroke="#ff0000" stroke-width="2" stroke-dasharray="1.9 1.7"/>
<line x1="548.9" y1="62.7" x2="510.1" y2="81.5" stroke="#ff0000" stroke-width="2" stroke-dasharray="1.9 1.7"/>
<line x1="518.1" y1="48.6" x2="517.6" y2="252.4" stroke="#ff0000" stroke-width="1.9"/>
<text transform="translate(416.1 270.9) scale(0.895 1)" text-anchor="middle" class="tk">-0.1</text>
<text transform="translate(491.5 270.9) scale(0.895 1)" text-anchor="middle" class="tk">0.0</text>
<text transform="translate(566.9 270.9) scale(0.895 1)" text-anchor="middle" class="tk">0.1</text>
<text transform="translate(642.4 270.9) scale(0.895 1)" text-anchor="middle" class="tk">0.2</text>
<text transform="translate(384.5 34.1) scale(0.91 1)" text-anchor="end" class="tk">-3</text>
<text transform="translate(384.5 78.2) scale(0.91 1)" text-anchor="end" class="tk">-4</text>
<text transform="translate(384.5 122.3) scale(0.91 1)" text-anchor="end" class="tk">-5</text>
<text transform="translate(384.5 166.3) scale(0.91 1)" text-anchor="end" class="tk">-6</text>
<text transform="translate(384.5 210.4) scale(0.91 1)" text-anchor="end" class="tk">-7</text>
<text transform="translate(384.5 254.5) scale(0.91 1)" text-anchor="end" class="tk">-8</text>
<text transform="translate(535.3 289.7) scale(0.943 1)" text-anchor="middle" class="ti">Potential V vs Ag/AgCl</text>
<text transform="translate(367.6 121.8) rotate(-90) scale(1.02 0.95)" text-anchor="middle" class="ti">Log (I/A)</text>
<rect x="413.1" y="220.1" width="67.1" height="21.4" fill="#fff" stroke="#505050" stroke-width="1.1"/>
<line x1="414.6" y1="230.1" x2="441.8" y2="230.1" stroke="#ff0000" stroke-width="1.3"/>
<circle cx="428.2" cy="230.1" r="2.8" fill="#ff0000"/>
<text transform="translate(445.3 233.8) scale(0.95 1)" class="lg">NF-C<tspan dy="3.1" font-size="9">2</tspan></text>
<text transform="translate(649.9 24.0) scale(0.95 1)" text-anchor="middle" class="pl" font-size="22">(b)</text>
</g>
<g id="plot-c">
<path d="M46.7 301.8V550.7" stroke="#555" stroke-width="1.4" fill="none"/>
<path d="M334.5 301.8V550.7" stroke="#606060" stroke-width="1.2" fill="none"/>
<path d="M46.00 301.8H335.1" stroke="#3a3a3a" stroke-width="1.6" fill="none"/>
<path d="M46.00 550.7H335.1" stroke="#3a3a3a" stroke-width="1.8" fill="none"/>
<path d="M58.7 550.7v4.8M95.5 550.7v4.8M132.3 550.7v4.8M169.2 550.7v4.8M206.0 550.7v4.8M242.8 550.7v4.8M279.6 550.7v4.8M316.4 550.7v4.8M77.1 550.7v2.9M113.9 550.7v2.9M150.8 550.7v2.9M187.6 550.7v2.9M224.4 550.7v2.9M261.2 550.7v2.9M298.0 550.7v2.9M334.9 550.7v2.9" stroke="#777" stroke-width="1" fill="none"/>
<path d="M46.7 336.2h-4M46.7 390.6h-4M46.7 444.9h-4M46.7 499.2h-4M46.7 309.0h-2.6M46.7 363.4h-2.6M46.7 417.7h-2.6M46.7 472.1h-2.6M46.7 526.4h-2.6" stroke="#222" stroke-width="1.2" fill="none"/>
<path d="M99.0 299.8L100.2 300.6L102.0 302.0L103.8 303.5L105.7 305.0L107.5 306.5L109.4 308.1L111.2 309.7L113.0 311.4L114.9 313.1L116.7 314.8L118.6 316.6L120.4 318.5L122.2 320.4L124.1 322.3L125.9 324.3L127.8 326.3L129.6 328.4L131.4 330.6L133.3 332.8L135.1 335.1L137.0 337.5L138.8 339.9L140.6 342.4L142.5 345.0L144.3 347.7L146.2 350.5L148.0 353.3L149.8 356.3L151.7 359.4L153.5 362.6L155.4 366.0L157.2 369.5L159.0 373.2L160.9 377.0L162.7 381.1L164.6 385.4L166.4 388.9L168.9 396.1L170.8 402.1L172.4 408.2L174.0 415.9L176.3 425.0L178.1 435.8L179.8 448.0L181.7 464.2L183.5 492.0L185.2 540.3L187.1 540.3L189.5 487.1L191.0 464.2L193.0 449.6L194.8 437.9L196.4 429.4L198.3 423.4L200.1 416.8L202.0 411.4L203.8 406.7L205.7 402.5L207.5 398.9L209.3 395.7L211.2 392.9L213.0 390.3L214.9 388.0L216.7 385.8L218.5 383.8L220.4 381.9L222.2 380.1L224.1 378.5L225.9 376.9L227.7 375.4L229.6 374.0L231.4 372.7L233.3 371.4L235.1 370.2L236.9 369.0L238.8 367.9L240.6 366.9L242.5 365.9L244.3 365.0L246.1 364.1L248.0 363.2L249.8 362.4L251.7 361.7L253.5 360.9L255.3 360.2L257.2 359.6L259.0 358.9L260.9 358.3L262.7 357.8L264.5 357.2L266.4 356.7L268.2 356.2L270.1 355.8L271.9 355.3L273.7 354.9L275.6 354.6L277.4 354.2L279.3 353.9L281.1 353.5L282.9 353.3L284.8 353.0L286.6 352.7L288.5 352.5L290.3 352.3L292.1 352.1L294.0 351.9L295.8 351.7L297.7 351.6L299.5 351.4L301.3 351.3L303.2 351.2L305.0 351.0L306.9 350.9L308.7 350.8L310.5 350.7L312.4 350.7L314.2 350.6L316.1 350.5L317.9 350.4L319.7 350.4L321.6 350.3L323.4 350.2L325.3 350.1L327.1 350.1L328.9 350.0L330.8 349.9L332.6 349.9L334.5 349.8L336.0 349.7" stroke="#0000ff" stroke-width="1" fill="none" stroke-linejoin="round"/>
<path d="M99.0 299.8h0M100.2 300.6h0M102.0 302.0h0M103.8 303.5h0M105.7 305.0h0M107.5 306.5h0M109.4 308.1h0M111.2 309.7h0M113.0 311.4h0M114.9 313.1h0M116.7 314.8h0M118.6 316.6h0M120.4 318.5h0M122.2 320.4h0M124.1 322.3h0M125.9 324.3h0M127.8 326.3h0M129.6 328.4h0M131.4 330.6h0M133.3 332.8h0M135.1 335.1h0M137.0 337.5h0M138.8 339.9h0M140.6 342.4h0M142.5 345.0h0M144.3 347.7h0M146.2 350.5h0M148.0 353.3h0M149.8 356.3h0M151.7 359.4h0M153.5 362.6h0M155.4 366.0h0M157.2 369.5h0M159.0 373.2h0M160.9 377.0h0M162.7 381.1h0M164.6 385.4h0M166.4 388.9h0M168.9 396.1h0M170.8 402.1h0M172.4 408.2h0M174.0 415.9h0M176.3 425.0h0M178.1 435.8h0M179.8 448.0h0M181.7 464.2h0M183.5 492.0h0M185.2 540.3h0M187.1 540.3h0M189.5 487.1h0M191.0 464.2h0M193.0 449.6h0M194.8 437.9h0M196.4 429.4h0M198.3 423.4h0M200.1 416.8h0M202.0 411.4h0M203.8 406.7h0M205.7 402.5h0M207.5 398.9h0M209.3 395.7h0M211.2 392.9h0M213.0 390.3h0M214.9 388.0h0M216.7 385.8h0M218.5 383.8h0M220.4 381.9h0M222.2 380.1h0M224.1 378.5h0M225.9 376.9h0M227.7 375.4h0M229.6 374.0h0M231.4 372.7h0M233.3 371.4h0M235.1 370.2h0M236.9 369.0h0M238.8 367.9h0M240.6 366.9h0M242.5 365.9h0M244.3 365.0h0M246.1 364.1h0M248.0 363.2h0M249.8 362.4h0M251.7 361.7h0M253.5 360.9h0M255.3 360.2h0M257.2 359.6h0M259.0 358.9h0M260.9 358.3h0M262.7 357.8h0M264.5 357.2h0M266.4 356.7h0M268.2 356.2h0M270.1 355.8h0M271.9 355.3h0M273.7 354.9h0M275.6 354.6h0M277.4 354.2h0M279.3 353.9h0M281.1 353.5h0M282.9 353.3h0M284.8 353.0h0M286.6 352.7h0M288.5 352.5h0M290.3 352.3h0M292.1 352.1h0M294.0 351.9h0M295.8 351.7h0M297.7 351.6h0M299.5 351.4h0M301.3 351.3h0M303.2 351.2h0M305.0 351.0h0M306.9 350.9h0M308.7 350.8h0M310.5 350.7h0M312.4 350.7h0M314.2 350.6h0M316.1 350.5h0M317.9 350.4h0M319.7 350.4h0M321.6 350.3h0M323.4 350.2h0M325.3 350.1h0M327.1 350.1h0M328.9 350.0h0M330.8 349.9h0M332.6 349.9h0M334.5 349.8h0M336.0 349.7h0" stroke="#0000ff" stroke-width="5.8" fill="none" stroke-linecap="round"/>
<line x1="114.1" y1="308" x2="198.6" y2="418.6" stroke="#ff0000" stroke-width="2" stroke-dasharray="1.9 1.7"/>
<line x1="242.8" y1="364" x2="166.5" y2="421" stroke="#ff0000" stroke-width="2" stroke-dasharray="1.9 1.7"/>
<line x1="187.1" y1="373" x2="186.9" y2="552" stroke="#ff0000" stroke-width="1.9"/>
<text transform="translate(58.7 569.1) scale(0.895 1)" text-anchor="middle" class="tk">-0.10</text>
<text transform="translate(95.5 569.1) scale(0.895 1)" text-anchor="middle" class="tk">-0.08</text>
<text transform="translate(132.3 569.1) scale(0.895 1)" text-anchor="middle" class="tk">-0.06</text>
<text transform="translate(169.2 569.1) scale(0.895 1)" text-anchor="middle" class="tk">-0.04</text>
<text transform="translate(206.0 569.1) scale(0.895 1)" text-anchor="middle" class="tk">-0.02</text>
<text transform="translate(242.8 569.1) scale(0.895 1)" text-anchor="middle" class="tk">0.00</text>
<text transform="translate(279.6 569.1) scale(0.895 1)" text-anchor="middle" class="tk">0.02</text>
<text transform="translate(316.4 569.1) scale(0.895 1)" text-anchor="middle" class="tk">0.04</text>
<text transform="translate(39.6 339.4) scale(0.91 1)" text-anchor="end" class="tk">-5.0</text>
<text transform="translate(39.6 393.8) scale(0.91 1)" text-anchor="end" class="tk">-5.5</text>
<text transform="translate(39.6 448.1) scale(0.91 1)" text-anchor="end" class="tk">-6.0</text>
<text transform="translate(39.6 502.4) scale(0.91 1)" text-anchor="end" class="tk">-6.5</text>
<text transform="translate(190.3 587.6) scale(0.943 1)" text-anchor="middle" class="ti">Potential V vs Ag/AgCl</text>
<text transform="translate(13.4 415.7) rotate(-90) scale(1.02 0.95)" text-anchor="middle" class="ti">Log (I/A)</text>
<rect x="68.3" y="512.3" width="67.6" height="21.1" fill="#fff" stroke="#505050" stroke-width="1.1"/>
<line x1="69.8" y1="522.1" x2="97.0" y2="522.1" stroke="#0000ff" stroke-width="1.3"/>
<circle cx="83.4" cy="522.1" r="2.8" fill="#0000ff"/>
<text transform="translate(100.5 525.8) scale(0.95 1)" class="lg">NF-C<tspan dy="3.1" font-size="9">3</tspan></text>
<text transform="translate(308.3 321.5) scale(0.95 1)" text-anchor="middle" class="pl" font-size="23">(c)</text>
</g>
<g id="plot-d">
<path d="M392.0 301.8V550.7" stroke="#999" stroke-width="1.8" fill="none"/>
<path d="M679.5 301.8V550.7" stroke="#606060" stroke-width="1.2" fill="none"/>
<path d="M391.10 301.8H680.1" stroke="#3a3a3a" stroke-width="1.6" fill="none"/>
<path d="M391.10 550.7H680.1" stroke="#3a3a3a" stroke-width="1.8" fill="none"/>
<path d="M426.9 550.7v4.8M488.4 550.7v4.8M550.0 550.7v4.8M611.5 550.7v4.8M673.1 550.7v4.8M396.1 550.7v2.9M457.7 550.7v2.9M519.2 550.7v2.9M580.8 550.7v2.9M642.3 550.7v2.9" stroke="#777" stroke-width="1" fill="none"/>
<path d="M392.0 335.4h-4M392.0 398.3h-4M392.0 461.3h-4M392.0 524.2h-4M392.0 303.9h-2.6M392.0 366.9h-2.6M392.0 429.8h-2.6M392.0 492.8h-2.6" stroke="#222" stroke-width="1.2" fill="none"/>
<path d="M391.5 345.0L391.8 345.0L393.0 345.3L394.3 345.7L395.5 346.0L396.7 346.3L398.0 346.6L399.2 346.9L400.4 347.2L401.6 347.5L402.9 347.8L404.1 348.1L405.3 348.4L406.6 348.7L407.8 349.0L409.0 349.3L410.3 349.5L411.5 349.8L412.7 350.1L413.9 350.3L415.2 350.6L416.4 350.9L417.6 351.1L418.9 351.4L420.1 351.6L421.3 351.9L422.6 352.2L423.8 352.4L425.0 352.7L426.2 352.9L427.5 353.2L428.7 353.4L429.9 353.7L431.2 353.9L432.4 354.2L433.6 354.5L434.9 354.7L436.1 355.0L437.3 355.3L438.5 355.5L439.8 355.8L441.0 356.1L442.2 356.3L443.5 356.6L444.7 356.9L445.9 357.2L447.2 357.5L448.4 357.7L449.6 358.0L450.8 358.3L452.1 358.6L453.3 358.9L454.5 359.3L455.8 359.6L457.0 359.9L458.2 360.2L459.5 360.6L460.7 360.9L461.9 361.2L463.1 361.6L464.4 362.0L465.6 362.3L466.8 362.7L468.1 363.1L469.3 363.5L470.5 363.9L471.8 364.3L473.0 364.7L474.2 365.1L475.4 365.5L476.7 366.0L477.9 366.4L479.1 366.9L480.4 367.4L481.6 367.9L482.8 368.4L484.1 368.9L485.3 369.4L486.5 370.0L487.7 370.6L489.0 371.1L490.2 371.7L491.4 372.4L492.7 373.0L493.9 373.7L495.1 374.3L496.4 375.1L497.6 375.8L498.8 376.5L500.0 377.3L501.3 378.1L502.5 379.0L503.7 379.8L505.0 380.7L506.2 381.7L507.4 382.7L508.7 383.7L509.9 384.8L511.1 385.9L512.3 387.0L513.6 388.3L514.8 389.5L516.0 390.9L517.3 392.3L518.5 393.8L519.7 395.4L521.0 397.0L522.2 398.8L523.4 400.7L524.6 402.8L525.9 405.0L527.1 407.4L528.3 410.1L529.6 413.1L530.8 416.4L531.4 419.1L532.0 421.9L532.6 424.7L533.7 430.8L534.9 438.4L536.4 449.4L537.4 467.9L538.7 534.1L540.2 470.7L541.6 450.7L542.7 439.5L544.2 431.3L545.1 424.7L545.8 421.4L546.5 418.2L547.2 415.4L548.4 410.4L549.7 407.2L550.9 404.3L552.1 401.8L553.4 399.5L554.6 397.3L555.8 395.4L557.0 393.5L558.3 391.7L559.5 390.1L560.7 388.5L562.0 387.0L563.2 385.5L564.4 384.1L565.7 382.8L566.9 381.5L568.1 380.2L569.3 379.0L570.6 377.9L571.8 376.7L573.0 375.6L574.3 374.6L575.5 373.5L576.7 372.5L578.0 371.5L579.2 370.6L580.4 369.6L581.6 368.7L582.9 367.8L584.1 367.0L585.3 366.1L586.6 365.3L587.8 364.5L589.0 363.7L590.3 362.9L591.5 362.1L592.7 361.4L593.9 360.7L595.2 360.0L596.4 359.3L597.6 358.6L598.9 357.9L600.1 357.2L601.3 356.6L602.6 356.0L603.8 355.3L605.0 354.7L606.2 354.1L607.5 353.5L608.7 352.9L609.9 352.3L611.2 351.7L612.4 351.2L613.6 350.6L614.9 350.0L616.1 349.5L617.3 348.9L618.5 348.4L619.8 347.9L621.0 347.3L622.2 346.8L623.5 346.3L624.7 345.7L625.9 345.2L627.2 344.7L628.4 344.2L629.6 343.7L630.8 343.1L632.1 342.6L633.3 342.1L634.5 341.6L635.8 341.1L637.0 340.6L638.2 340.0L639.5 339.5L640.7 339.0L641.9 338.5L643.1 338.0L644.4 337.5L645.6 337.0L646.8 336.5L648.1 336.1L649.3 335.6L650.5 335.1L651.8 334.6L653.0 334.2L654.2 333.7L655.4 333.3L656.7 332.8L657.9 332.4L659.1 332.0L660.4 331.5L661.6 331.1L662.8 330.7L664.1 330.3L665.3 330.0L666.5 329.6L667.7 329.2L669.0 328.9L670.2 328.6L671.4 328.2L672.7 327.9L673.9 327.6L675.1 327.3L676.4 327.1L677.6 326.8L678.8 326.6L680.0 326.3L680.7 326.2" stroke="#008000" stroke-width="0.7" fill="none" stroke-linejoin="round"/>
<path d="M391.5 345.0h0M391.8 345.0h0M393.0 345.3h0M394.3 345.7h0M395.5 346.0h0M396.7 346.3h0M398.0 346.6h0M399.2 346.9h0M400.4 347.2h0M401.6 347.5h0M402.9 347.8h0M404.1 348.1h0M405.3 348.4h0M406.6 348.7h0M407.8 349.0h0M409.0 349.3h0M410.3 349.5h0M411.5 349.8h0M412.7 350.1h0M413.9 350.3h0M415.2 350.6h0M416.4 350.9h0M417.6 351.1h0M418.9 351.4h0M420.1 351.6h0M421.3 351.9h0M422.6 352.2h0M423.8 352.4h0M425.0 352.7h0M426.2 352.9h0M427.5 353.2h0M428.7 353.4h0M429.9 353.7h0M431.2 353.9h0M432.4 354.2h0M433.6 354.5h0M434.9 354.7h0M436.1 355.0h0M437.3 355.3h0M438.5 355.5h0M439.8 355.8h0M441.0 356.1h0M442.2 356.3h0M443.5 356.6h0M444.7 356.9h0M445.9 357.2h0M447.2 357.5h0M448.4 357.7h0M449.6 358.0h0M450.8 358.3h0M452.1 358.6h0M453.3 358.9h0M454.5 359.3h0M455.8 359.6h0M457.0 359.9h0M458.2 360.2h0M459.5 360.6h0M460.7 360.9h0M461.9 361.2h0M463.1 361.6h0M464.4 362.0h0M465.6 362.3h0M466.8 362.7h0M468.1 363.1h0M469.3 363.5h0M470.5 363.9h0M471.8 364.3h0M473.0 364.7h0M474.2 365.1h0M475.4 365.5h0M476.7 366.0h0M477.9 366.4h0M479.1 366.9h0M480.4 367.4h0M481.6 367.9h0M482.8 368.4h0M484.1 368.9h0M485.3 369.4h0M486.5 370.0h0M487.7 370.6h0M489.0 371.1h0M490.2 371.7h0M491.4 372.4h0M492.7 373.0h0M493.9 373.7h0M495.1 374.3h0M496.4 375.1h0M497.6 375.8h0M498.8 376.5h0M500.0 377.3h0M501.3 378.1h0M502.5 379.0h0M503.7 379.8h0M505.0 380.7h0M506.2 381.7h0M507.4 382.7h0M508.7 383.7h0M509.9 384.8h0M511.1 385.9h0M512.3 387.0h0M513.6 388.3h0M514.8 389.5h0M516.0 390.9h0M517.3 392.3h0M518.5 393.8h0M519.7 395.4h0M521.0 397.0h0M522.2 398.8h0M523.4 400.7h0M524.6 402.8h0M525.9 405.0h0M527.1 407.4h0M528.3 410.1h0M529.6 413.1h0M530.8 416.4h0M531.4 419.1h0M532.0 421.9h0M532.6 424.7h0M533.7 430.8h0M534.9 438.4h0M536.4 449.4h0M537.4 467.9h0M538.7 534.1h0M540.2 470.7h0M541.6 450.7h0M542.7 439.5h0M544.2 431.3h0M545.1 424.7h0M545.8 421.4h0M546.5 418.2h0M547.2 415.4h0M548.4 410.4h0M549.7 407.2h0M550.9 404.3h0M552.1 401.8h0M553.4 399.5h0M554.6 397.3h0M555.8 395.4h0M557.0 393.5h0M558.3 391.7h0M559.5 390.1h0M560.7 388.5h0M562.0 387.0h0M563.2 385.5h0M564.4 384.1h0M565.7 382.8h0M566.9 381.5h0M568.1 380.2h0M569.3 379.0h0M570.6 377.9h0M571.8 376.7h0M573.0 375.6h0M574.3 374.6h0M575.5 373.5h0M576.7 372.5h0M578.0 371.5h0M579.2 370.6h0M580.4 369.6h0M581.6 368.7h0M582.9 367.8h0M584.1 367.0h0M585.3 366.1h0M586.6 365.3h0M587.8 364.5h0M589.0 363.7h0M590.3 362.9h0M591.5 362.1h0M592.7 361.4h0M593.9 360.7h0M595.2 360.0h0M596.4 359.3h0M597.6 358.6h0M598.9 357.9h0M600.1 357.2h0M601.3 356.6h0M602.6 356.0h0M603.8 355.3h0M605.0 354.7h0M606.2 354.1h0M607.5 353.5h0M608.7 352.9h0M609.9 352.3h0M611.2 351.7h0M612.4 351.2h0M613.6 350.6h0M614.9 350.0h0M616.1 349.5h0M617.3 348.9h0M618.5 348.4h0M619.8 347.9h0M621.0 347.3h0M622.2 346.8h0M623.5 346.3h0M624.7 345.7h0M625.9 345.2h0M627.2 344.7h0M628.4 344.2h0M629.6 343.7h0M630.8 343.1h0M632.1 342.6h0M633.3 342.1h0M634.5 341.6h0M635.8 341.1h0M637.0 340.6h0M638.2 340.0h0M639.5 339.5h0M640.7 339.0h0M641.9 338.5h0M643.1 338.0h0M644.4 337.5h0M645.6 337.0h0M646.8 336.5h0M648.1 336.1h0M649.3 335.6h0M650.5 335.1h0M651.8 334.6h0M653.0 334.2h0M654.2 333.7h0M655.4 333.3h0M656.7 332.8h0M657.9 332.4h0M659.1 332.0h0M660.4 331.5h0M661.6 331.1h0M662.8 330.7h0M664.1 330.3h0M665.3 330.0h0M666.5 329.6h0M667.7 329.2h0M669.0 328.9h0M670.2 328.6h0M671.4 328.2h0M672.7 327.9h0M673.9 327.6h0M675.1 327.3h0M676.4 327.1h0M677.6 326.8h0M678.8 326.6h0M680.0 326.3h0M680.7 326.2h0" stroke="#008000" stroke-width="5.7" fill="none" stroke-linecap="round"/>
<line x1="404.4" y1="347.6" x2="553.4" y2="374.6" stroke="#ff0000" stroke-width="2" stroke-dasharray="1.9 1.7"/>
<line x1="673.6" y1="328.0" x2="531.8" y2="375.2" stroke="#ff0000" stroke-width="2" stroke-dasharray="1.9 1.7"/>
<line x1="539.7" y1="365.3" x2="539.0" y2="550.7" stroke="#ff0000" stroke-width="1.9"/>
<text transform="translate(426.9 568.7) scale(0.895 1)" text-anchor="middle" class="tk">0.00</text>
<text transform="translate(488.4 568.7) scale(0.895 1)" text-anchor="middle" class="tk">0.05</text>
<text transform="translate(550.0 568.7) scale(0.895 1)" text-anchor="middle" class="tk">0.10</text>
<text transform="translate(611.5 568.7) scale(0.895 1)" text-anchor="middle" class="tk">0.15</text>
<text transform="translate(673.1 568.7) scale(0.895 1)" text-anchor="middle" class="tk">0.20</text>
<text transform="translate(384.5 338.6) scale(0.91 1)" text-anchor="end" class="tk">-4</text>
<text transform="translate(384.5 401.5) scale(0.91 1)" text-anchor="end" class="tk">-5</text>
<text transform="translate(384.5 464.5) scale(0.91 1)" text-anchor="end" class="tk">-6</text>
<text transform="translate(384.5 527.5) scale(0.91 1)" text-anchor="end" class="tk">-7</text>
<text transform="translate(535.3 586.8) scale(0.943 1)" text-anchor="middle" class="ti">Potential V vs Ag/AgCl</text>
<text transform="translate(368.4 425) rotate(-90) scale(1.02 0.95)" text-anchor="middle" class="ti">Log (I/A)</text>
<rect x="420.1" y="518.9" width="67.6" height="21.3" fill="#fff" stroke="#505050" stroke-width="1.1"/>
<line x1="421.6" y1="528.8" x2="448.8" y2="528.8" stroke="#008000" stroke-width="1.3"/>
<circle cx="435.2" cy="528.8" r="2.8" fill="#008000"/>
<text transform="translate(452.3 532.5) scale(0.95 1)" class="lg">NF-C<tspan dy="3.1" font-size="9">4</tspan></text>
<text transform="translate(655 319.7) scale(0.95 1)" text-anchor="middle" class="pl" font-size="23">(d)</text>
</g>
</svg>
</body></html>
